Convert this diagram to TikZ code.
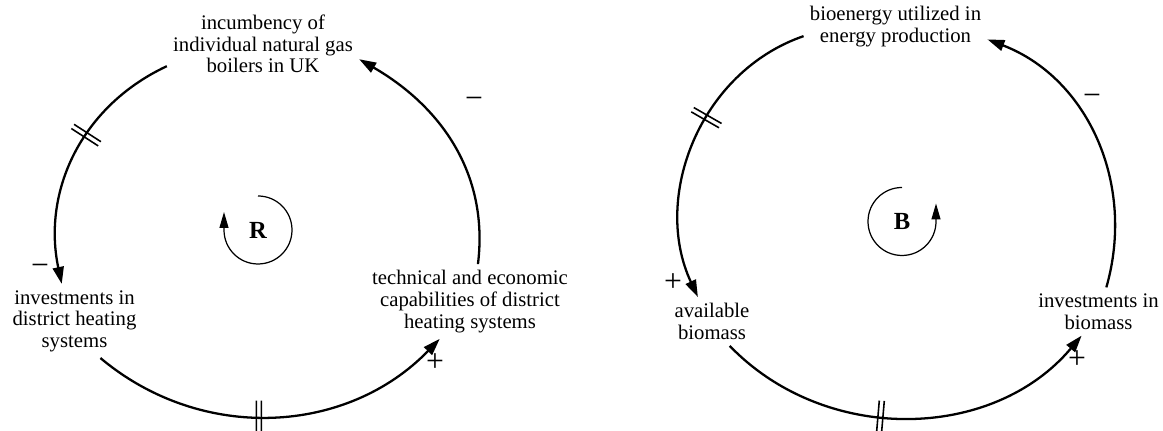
\documentclass[tikz,border=0pt]{standalone}
\usepackage{fontspec}
\setmainfont{Liberation Serif}
\usetikzlibrary{arrows.meta,decorations.markings}
\tikzset{
  var/.style={align=center,inner sep=0.12cm,font=\fontsize{11.8pt}{12.3pt}\selectfont},
  link/.style={line width=1.3pt,-{Triangle[length=0.34cm,width=0.22cm]}},
  delay/.style={postaction={decorate,decoration={markings,
      mark=at position #1 with {\draw[-,line width=0.9pt] (-2.5,-16)--(-2.5,16) (2.5,-16)--(2.5,16);}}}},
  sign/.style={inner sep=0,font=\fontsize{18pt}{20pt}\selectfont},
  loopname/.style={inner sep=0,font=\fontsize{14pt}{16pt}\selectfont\bfseries},
  loopdir/.style={line width=0.7pt,-{Triangle[length=0.32cm,width=0.18cm]}}
}
\begin{document}
\begin{tikzpicture}[x=0.02cm,y=0.02cm]
\useasboundingbox (0,0) rectangle (1163,431);

\node[var] (gas) at (263,387) {incumbency of\\individual natural gas\\boilers in UK};
\node[var] (invdh) at (74.5,110) {investments in\\district heating\\systems};
\node[var] (capdh) at (470,129.5) {technical and economic\\capabilities of district\\heating systems};
\node[loopname] (rloop) at (258,201) {R};

\draw[link,delay=0.41] (gas.193) to[out=205,in=102] (invdh.109);
\draw[link,delay=0.46] (invdh.-55) to[out=320,in=226] (capdh.-129);
\draw[link] (capdh.78) to[out=83,in=-30] (gas.-9);
\draw[loopdir] (rloop.center) ++(0,34) arc[start angle=90,end angle=-180,radius=34] -- ++(0,18);

\node[sign] (s1) at (40,161) {−};
\node[sign] (s2) at (435,68) {+};
\node[sign] (s3) at (474,328) {−};

\node[var] (bio) at (895.5,404.5) {bioenergy utilized in\\energy production};
\node[var] (avail) at (712,109.5) {available\\biomass};
\node[var] (invbio) at (1098.5,119.5) {investments in\\biomass};
\node[loopname] (bloop) at (902,209.5) {B};

\draw[link,delay=0.41] (bio.186) to[out=199,in=115] (avail.120);
\draw[link,delay=0.43] (avail.-54) to[out=314,in=230] (invbio.-125);
\draw[link] (invbio.72) to[out=74,in=-21] (bio.-8);
\draw[loopdir] (bloop.center) ++(0,34) arc[start angle=90,end angle=360,radius=34] -- ++(0,18);

\node[sign] (s4) at (673,148) {+};
\node[sign] (s5) at (1077,71) {+};
\node[sign] (s6) at (1092,331) {−};
\end{tikzpicture}
\end{document}
